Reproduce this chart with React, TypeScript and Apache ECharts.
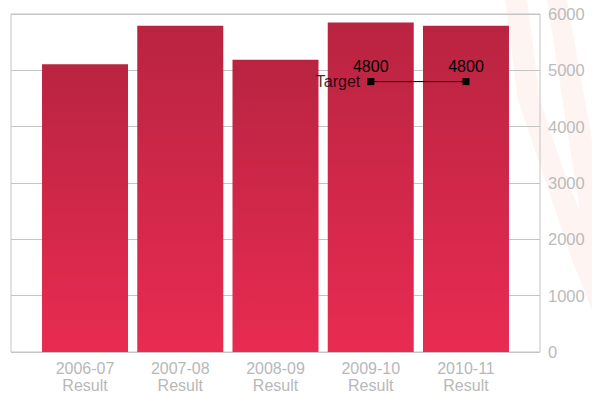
import React, { useEffect, useRef } from "react";
import * as echarts from "echarts";

const periods = ["2006-07", "2007-08", "2008-09", "2009-10", "2010-11"];
const periodSuffix = "Result";
const resultValues = [5110, 5790, 5190, 5850, 5790];
const targetValues: (number | null)[] = [null, null, null, 4800, 4800];
const targetName = "Target";
const yMin = 0;
const yMax = 6000;
const yInterval = 1000;

const FONT = "'Liberation Sans', Arial, sans-serif";

export default function App() {
  const ref = useRef<HTMLDivElement>(null);
  useEffect(() => {
    if (!ref.current) return;
    const chart = echarts.init(ref.current, undefined, { renderer: "svg" });
    const categories = periods.map((p) => `${p}\n${periodSuffix}`);
    const firstTargetIdx = targetValues.findIndex((v) => v !== null);
    const stripe = "#fef5f3";
    chart.setOption({
      animation: false,
      backgroundColor: "#ffffff",
      graphic: [
        {
          type: "polygon",
          z: -10,
          silent: true,
          shape: { points: [[547, 0], [567, 0], [592, 140], [592, 290]] },
          style: { fill: stripe },
        },
        {
          type: "polygon",
          z: -10,
          silent: true,
          shape: {
            points: [
              [505, 0], [527, 0], [540, 100], [567, 180], [592, 240],
              [592, 310], [572, 260], [545, 180], [518, 100],
            ],
          },
          style: { fill: stripe },
        },
      ],
      grid: [
        {
          left: 11, right: 52, top: 14, bottom: 42,
          show: true, borderColor: "#c4c4c4", borderWidth: 1,
          backgroundColor: "transparent",
        },
        { left: 37.4, right: 78.4, top: 14, bottom: 42 },
      ],
      xAxis: [
        { type: "value", gridIndex: 0, min: 0, max: 1, show: false },
        {
          type: "category", gridIndex: 1, data: categories,
          axisLine: { show: false }, axisTick: { show: false },
          axisLabel: {
            interval: 0, color: "#b8b8b8", fontSize: 16, fontFamily: FONT,
            lineHeight: 17, margin: 8,
          },
        },
      ],
      yAxis: [
        {
          type: "value", gridIndex: 0, position: "right",
          min: yMin, max: yMax, interval: yInterval,
          axisLine: { show: false }, axisTick: { show: false },
          splitLine: { lineStyle: { color: "#c4c4c4", width: 1 } },
          axisLabel: {
            color: "#bbbbbb", fontSize: 16.5, fontFamily: FONT, margin: 8,
            formatter: (v: number) => String(v),
          },
        },
        {
          type: "value", gridIndex: 1, min: yMin, max: yMax, interval: yInterval,
          show: false, splitLine: { show: false },
        },
      ],
      series: [
        {
          type: "bar", xAxisIndex: 1, yAxisIndex: 1, data: resultValues,
          barWidth: 86,
          itemStyle: {
            color: new echarts.graphic.LinearGradient(0, 0, 0, 1, [
              { offset: 0, color: "#b92441" },
              { offset: 1, color: "#e82b51" },
            ]),
          },
        },
        {
          type: "line", xAxisIndex: 1, yAxisIndex: 1, data: targetValues,
          symbol: "rect", symbolSize: 7, showAllSymbol: true,
          lineStyle: { color: "#000", width: 1 },
          itemStyle: { color: "#000" },
          label: {
            show: true, position: "top", distance: 4, color: "#000",
            fontSize: 16, fontFamily: FONT,
          },
          z: 5,
        },
        {
          type: "scatter", xAxisIndex: 1, yAxisIndex: 1,
          data: [[firstTargetIdx, targetValues[firstTargetIdx]]],
          symbol: "rect", symbolSize: 7, itemStyle: { color: "#000" },
          label: {
            show: true, position: "left", distance: 7, formatter: targetName,
            color: "#000", fontSize: 16, fontFamily: FONT,
          },
          z: 6,
        },
      ],
    });
    return () => chart.dispose();
  }, []);
  return (
    <div
      ref={ref}
      style={{ position: "fixed", left: 0, top: 0, width: 592, height: 394 }}
    />
  );
}
